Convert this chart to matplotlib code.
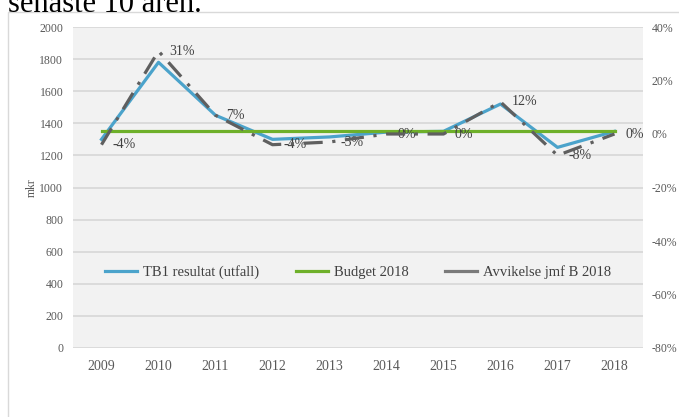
import matplotlib
matplotlib.use("Agg")
import matplotlib.pyplot as plt
from matplotlib.ticker import FuncFormatter
from matplotlib.patches import Rectangle
from matplotlib.lines import Line2D

years = ["2009", "2010", "2011", "2012", "2013", "2014", "2015", "2016", "2017", "2018"]
tb1 = [1300, 1780, 1450, 1300, 1315, 1345, 1350, 1520, 1250, 1350]
budget = [1355] * 10
avvikelse = [-0.04, 0.31, 0.07, -0.04, -0.03, 0.0, 0.0, 0.12, -0.08, 0.0]
avv_labels = ["-4%", "31%", "7%", "-4%", "-3%", "0%", "0%", "12%", "-8%", "0%"]

FONT = "Liberation Serif"
GREY = "#595959"

fig = plt.figure(figsize=(6.79, 4.17), dpi=100)
fig.patch.set_facecolor("white")

# outer chart frame
fig.patches.append(Rectangle((8/679, -0.1), 1.0, 1 - 11.5/417 + 0.1, transform=fig.transFigure,
                             fill=False, edgecolor="#d9d9d9", linewidth=1.0))
fig.text(8/679, 1 - 12/417, "senaste 10 åren.", fontsize=22, family=FONT, color="black",
         va="baseline", ha="left")

ax = fig.add_axes([73/679, 1 - 348/417, (643 - 73)/679, (348 - 27)/417])
ax.set_facecolor("#f2f2f2")
x = list(range(len(years)))

ax.set_ylim(0, 2000)
ax.set_xlim(-0.5, len(years) - 0.5)
ax.set_yticks(range(0, 2001, 200))
ax.grid(axis="y", color="#d9d9d9", linewidth=1.3)
ax.set_axisbelow(True)
for s in ax.spines.values():
    s.set_visible(False)
ax.tick_params(length=0, colors=GREY)
ax.set_xticks(x)
ax.set_xticklabels(years, family=FONT, fontsize=10, color=GREY)
for lab in ax.get_yticklabels():
    lab.set_family(FONT); lab.set_fontsize(8.5); lab.set_color(GREY)
ax.tick_params(axis="x", pad=9)
ax.tick_params(axis="y", pad=7)
ax.set_ylabel("mkr", family=FONT, fontsize=8.5, color=GREY, labelpad=1)

l1, = ax.plot(x, tb1, color="#4ba3cb", linewidth=2.3, label="TB1 resultat (utfall)", zorder=3)
l2, = ax.plot(x, budget, color="#6eb02a", linewidth=2.3, label="Budget 2018", zorder=3)

ax2 = ax.twinx()
ax2.set_ylim(-0.8, 0.4)
ax2.set_yticks([-0.8, -0.6, -0.4, -0.2, 0.0, 0.2, 0.4])
ax2.yaxis.set_major_formatter(FuncFormatter(lambda v, p: f"{round(v*100):d}%"))
for s in ax2.spines.values():
    s.set_visible(False)
ax2.tick_params(length=0, colors=GREY, pad=6)
for lab in ax2.get_yticklabels():
    lab.set_family(FONT); lab.set_fontsize(8.5); lab.set_color(GREY)

l3, = ax2.plot(x, avvikelse, color="#5f5f5f", linewidth=2.3, linestyle=(0, (6, 3, 1, 3)),
               zorder=4)
for xi, v, t in zip(x, avvikelse, avv_labels):
    ax2.annotate(t, (xi, v), xytext=(8, 0), textcoords="offset points", ha="left", va="center",
                 family=FONT, fontsize=10, color="#404040")

h3 = Line2D([], [], color="#7a7a7a", linewidth=2.3)
leg = ax.legend(handles=[l1, l2, h3],
                labels=["TB1 resultat (utfall)", "Budget 2018", "Avvikelse jmf B 2018"],
                loc="center", bbox_to_anchor=(0.5, (348 - 272)/(348 - 27)),
                ncol=3, frameon=False, prop={"family": FONT, "size": 10.5},
                handlelength=2.2, columnspacing=2.5, handletextpad=0.4)
for t in leg.get_texts():
    t.set_color("#404040")
leg.set_zorder(10)

fig.savefig("out.png", dpi=100)
